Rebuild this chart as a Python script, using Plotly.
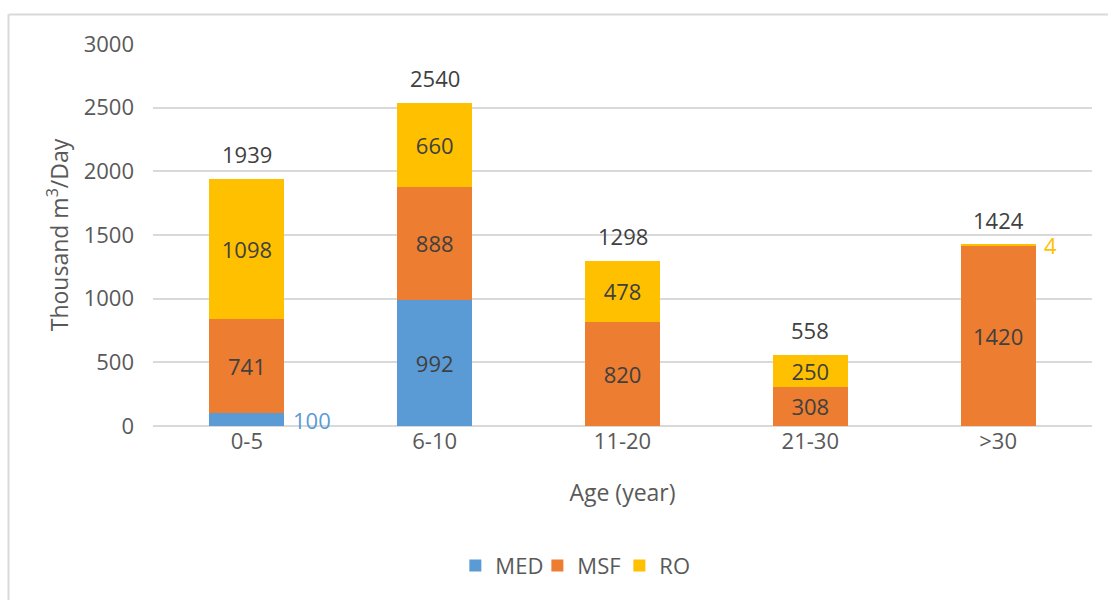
import plotly.graph_objects as go

# Installed capacity by plant age and desalination technology
age_groups = ["0-5", "6-10", "11-20", "21-30", ">30"]
med = [100, 992, 0, 0, 0]
msf = [741, 888, 820, 308, 1420]
ro = [1098, 660, 478, 250, 4]

series = [
    ("MED", med, "#5B9BD5"),
    ("MSF", msf, "#ED7D31"),
    ("RO", ro, "#FFC000"),
]

FONT = "Open Sans"
LABEL_GREY = "#404040"
AXIS_GREY = "#595959"
SMALL = 150  # segments thinner than this get their label beside the bar

fig = go.Figure()
annotations = []
for name, vals, color in series:
    fig.add_trace(go.Bar(
        name=name,
        x=age_groups,
        y=vals,
        marker=dict(color=color, line=dict(width=0)),
        text=[str(v) for v in vals],
        textposition=["inside" if v >= SMALL else "none" for v in vals],
        insidetextanchor="middle",
        textangle=0,
        textfont=dict(family=FONT, size=22, color=LABEL_GREY),
        constraintext="none",
        hoverinfo="skip",
    ))

# Labels for thin segments, placed to the right of the bar
base = [0] * len(age_groups)
for name, vals, color in series:
    for i, v in enumerate(vals):
        if 0 < v < SMALL:
            annotations.append(dict(
                x=age_groups[i], y=base[i] + v / 2, xref="x", yref="y",
                text=str(v), showarrow=False, xanchor="left", yanchor="middle",
                xshift=44, font=dict(family=FONT, size=22, color=color),
            ))
    base = [b + v for b, v in zip(base, vals)]

# Totals above each stack
totals = [a + b + c for a, b, c in zip(med, msf, ro)]
for cat, tot in zip(age_groups, totals):
    annotations.append(dict(
        x=cat, y=tot, xref="x", yref="y", text=str(tot), showarrow=False,
        xanchor="center", yanchor="middle", yshift=25,
        font=dict(family=FONT, size=22, color=LABEL_GREY),
    ))

L, R, T, B = 153, 16, 44, 174
W, H = 1108, 600
pw, ph = W - L - R, H - T - B

# Chart frame: top and left edges
shapes = [
    dict(type="line", xref="paper", yref="paper",
         x0=(8.5 - L) / pw, x1=(W - L) / pw, y0=(H - B - 14.5) / ph, y1=(H - B - 14.5) / ph,
         line=dict(color="#d9d9d9", width=2), layer="below"),
    dict(type="line", xref="paper", yref="paper",
         x0=(8.5 - L) / pw, x1=(8.5 - L) / pw, y0=(H - B - 14.5) / ph, y1=(H - B - H) / ph,
         line=dict(color="#d9d9d9", width=2), layer="below"),
]

fig.update_layout(
    width=W, height=H,
    margin=dict(l=L, r=R, t=T, b=B, pad=0),
    barmode="stack",
    bargap=0.6,
    plot_bgcolor="white",
    paper_bgcolor="white",
    font=dict(family=FONT, size=22, color=AXIS_GREY),
    showlegend=True,
    legend=dict(
        orientation="h", x=0.453, xanchor="center", y=-0.366, yanchor="middle",
        font=dict(family=FONT, size=22, color=AXIS_GREY),
        itemwidth=30, entrywidth=37, entrywidthmode="pixels",
        traceorder="normal",
    ),
    annotations=annotations,
    shapes=shapes,
    uniformtext=dict(mode=False),
)
fig.update_xaxes(
    showgrid=False, showline=False, zeroline=False, ticks="",
    tickfont=dict(family=FONT, size=22, color=AXIS_GREY),
    ticklabelstandoff=0,
    title=dict(text="Age (year)", standoff=30,
               font=dict(family=FONT, size=23, color=AXIS_GREY)),
    automargin=False,
)
fig.update_yaxes(
    range=[0, 3000], dtick=500, showgrid=True, gridcolor="#d9d9d9", gridwidth=2,
    zeroline=True, zerolinecolor="#d9d9d9", zerolinewidth=2,
    showline=False, ticks="",
    tickfont=dict(family=FONT, size=22, color=AXIS_GREY),
    ticklabelstandoff=18,
    title=dict(text="Thousand m<sup>3</sup>/Day", standoff=8,
               font=dict(family=FONT, size=23, color=AXIS_GREY)),
    automargin=False,
)

fig.write_html("out.html")
